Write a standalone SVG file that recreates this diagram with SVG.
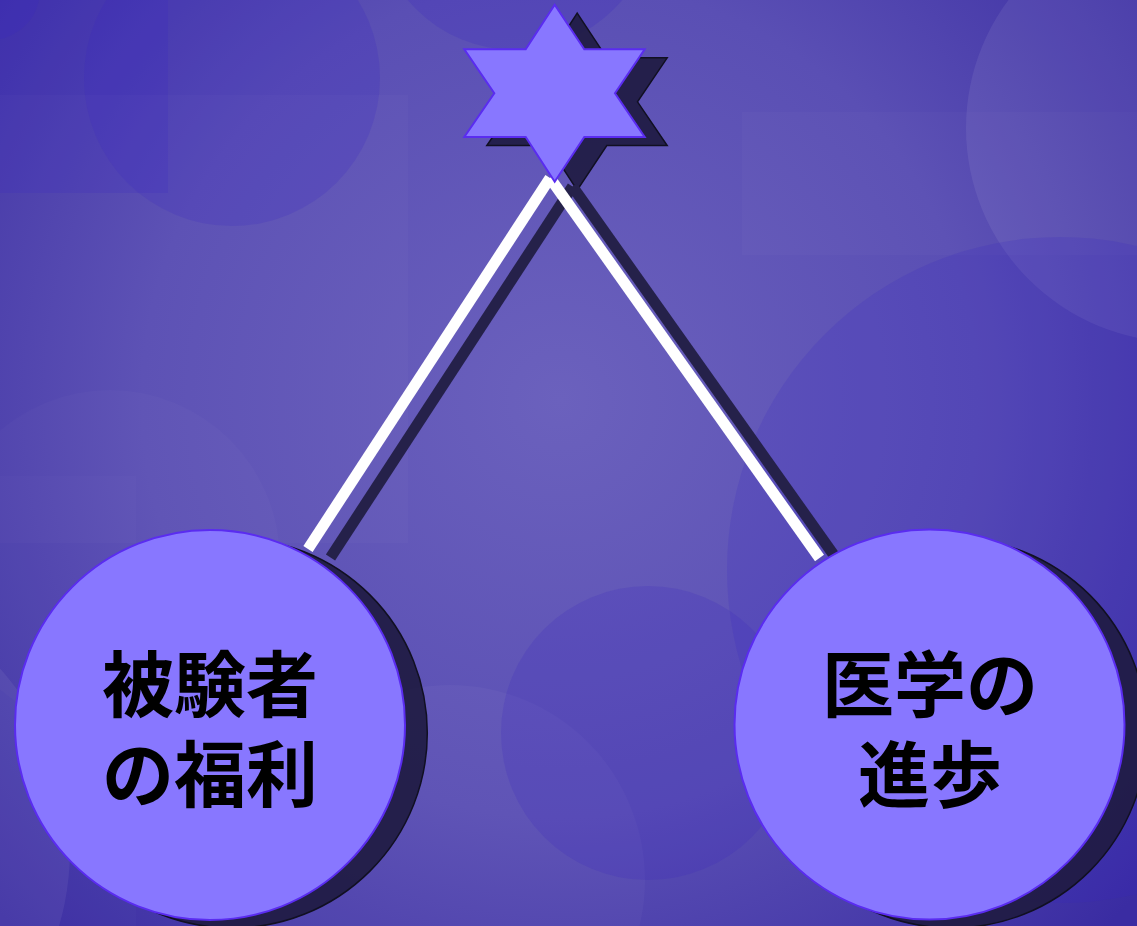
<svg xmlns="http://www.w3.org/2000/svg" width="1137" height="926" viewBox="0 0 1137 926">
  <defs>
    <radialGradient id="bg" cx="560" cy="400" r="760" gradientUnits="userSpaceOnUse">
      <stop offset="0" stop-color="#6b61bd"/>
      <stop offset="0.55" stop-color="#5a4fb4"/>
      <stop offset="1" stop-color="#3a2ca2"/>
    </radialGradient>
    <style>
      .dk { fill: #3a28c0; fill-opacity: 0.22; }
      .lt { fill: #ffffff; fill-opacity: 0.05; }
      .shadow { fill: #1f1b42; fill-opacity: 0.92; stroke: #111022; stroke-width: 1.5; }
      .shline { stroke: #25214a; stroke-width: 11; fill: none; }
      .line { stroke: #ffffff; stroke-width: 11; fill: none; }
      .node { fill: #8877ff; stroke: #5a2cf0; stroke-width: 2; }
      .label { font-family: "Noto Sans CJK JP", "Noto Sans CJK SC", sans-serif; font-weight: 700; font-size: 72px; fill: #000000; text-anchor: middle; }
    </style>
  </defs>

  <g id="background">
    <rect x="0" y="0" width="1137" height="926" fill="url(#bg)"/>
    <rect class="dk" x="0" y="0" width="168" height="193"/>
    <circle class="dk" cx="-10" cy="-10" r="50"/>
    <circle class="dk" cx="232" cy="78" r="148"/>
    <circle class="dk" cx="515" cy="-90" r="140"/>
    <rect class="lt" x="0" y="95" width="408" height="448" style="fill-opacity:0.02"/>
    <rect class="lt" x="0" y="476" width="136" height="450" style="fill-opacity:0.015"/>
    <rect class="lt" x="742" y="112" width="395" height="143" style="fill-opacity:0.02"/>
    <circle class="lt" cx="110" cy="560" r="170" style="fill-opacity:0.02"/>
    <circle class="lt" cx="-200" cy="850" r="270" style="fill-opacity:0.06"/>
    <circle class="lt" cx="1180" cy="128" r="214" style="fill-opacity:0.07"/>
    <circle class="dk" cx="1060" cy="570" r="333" style="fill-opacity:0.18"/>
    <circle class="lt" cx="450" cy="880" r="195" style="fill-opacity:0.03"/>
    <circle class="dk" cx="648" cy="733" r="147" style="fill-opacity:0.2"/>
  </g>

  <g id="shadows">
    <polygon class="shadow" transform="translate(22.5,8.5)" points="554.7,4.7 584.3,49.3 644.7,49.3 615,93.3 644.7,137 584.3,137 554.7,181.7 525.7,137 464.3,137 494.3,93.3 464.3,49.3 525.7,49.3"/>
    <line class="shline" x1="572.5" y1="186.5" x2="330.5" y2="557.5"/>
    <line class="shline" x1="572.5" y1="186.5" x2="842" y2="566.5"/>
    <circle class="shadow" cx="232.3" cy="733" r="195"/>
    <circle class="shadow" cx="952" cy="733" r="195"/>
  </g>

  <g id="connectors">
    <line class="line" x1="550" y1="178" x2="308" y2="549"/>
    <line class="line" x1="550" y1="178" x2="819.5" y2="558"/>
  </g>

  <g id="node-star">
    <polygon class="node" points="554.7,4.7 584.3,49.3 644.7,49.3 615,93.3 644.7,137 584.3,137 554.7,181.7 525.7,137 464.3,137 494.3,93.3 464.3,49.3 525.7,49.3"/>
  </g>

  <g id="node-subject-welfare">
    <circle class="node" cx="210" cy="725" r="195"/>
    <text class="label"><tspan x="210" y="711">被験者</tspan><tspan x="210" y="801">の福利</tspan></text>
  </g>

  <g id="node-medical-progress">
    <circle class="node" cx="929.5" cy="724.5" r="195"/>
    <text class="label"><tspan x="930" y="711">医学の</tspan><tspan x="930" y="801">進歩</tspan></text>
  </g>
</svg>
